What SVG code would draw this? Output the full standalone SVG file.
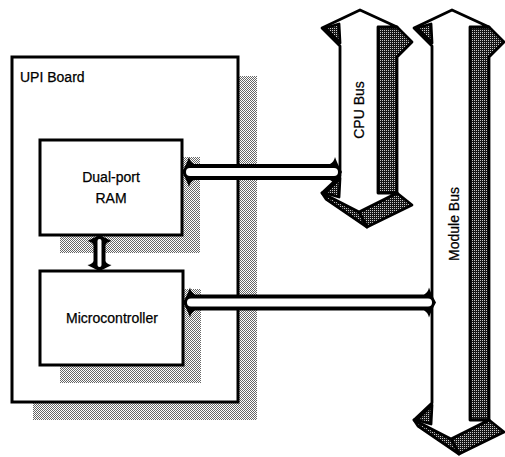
<svg xmlns="http://www.w3.org/2000/svg" width="505" height="457" viewBox="0 0 505 457">
<defs>
<pattern id="lt" width="2" height="2" patternUnits="userSpaceOnUse">
<rect width="2" height="2" fill="#ffffff"/>
<rect x="0" y="0" width="1" height="1" fill="#666666"/>
<rect x="1" y="1" width="1" height="1" fill="#666666"/>
</pattern>
<pattern id="dk" width="2" height="2" patternUnits="userSpaceOnUse">
<rect width="2" height="2" fill="#151515"/>
<rect x="0" y="0" width="1" height="1" fill="#c8c8c8"/>
</pattern>
</defs>
<style>
.shadow{fill:url(#lt);stroke:none}
.box{fill:#fff;stroke:#000;stroke-width:3}
.front{fill:#fff;stroke:#000;stroke-width:2.8;stroke-linejoin:round}
.side{fill:url(#dk);stroke:#000;stroke-width:2.8;stroke-linejoin:round}
.conn{fill:#000}
.inner{fill:#fff}
.lbl{font-family:"Liberation Sans",Arial,sans-serif;font-size:14px;fill:#000;stroke:#000;stroke-width:0.25}
</style>
<g id="upi-board">
<rect class="shadow" x="33" y="76" width="224" height="344"/>
<rect class="box" x="12" y="57" width="226" height="345" stroke-width="3.2"/>
<text class="lbl" x="20" y="82" font-size="13">UPI Board</text>
</g>
<g id="dual-port-ram">
<rect class="shadow" x="60" y="157" width="140" height="96"/>
<rect class="box" x="40" y="140" width="142" height="95"/>
<text class="lbl" x="111" y="182" text-anchor="middle">Dual-port</text>
<text class="lbl" x="111" y="203" text-anchor="middle">RAM</text>
</g>
<g id="microcontroller">
<rect class="shadow" x="60" y="289" width="141" height="94"/>
<rect class="box" x="40" y="271" width="143" height="94"/>
<text class="lbl" x="112" y="323" text-anchor="middle">Microcontroller</text>
</g>
<g id="cpu-bus">
<polygon class="side" points="378,27 397,27 412,42 397,57 397,193 378,193"/>
<polygon class="side" points="359,212 397,193 412,205 367,227"/>
<polygon class="side" points="322,193 359,212 367,227 326,199"/>
<polygon class="front" points="360,10 397,27 378,27 378,193 397,193 359,212 322,193 340,176 340,46 322,28"/>
<polygon class="side" points="325,28 339,24 340,43" stroke-width="1"/>
<polygon class="side" points="325,193 339,197 340,178" stroke-width="1"/>
<text class="lbl" transform="translate(364,110) rotate(-90)" text-anchor="middle">CPU Bus</text>
</g>
<g id="module-bus">
<polygon class="side" points="470,27 489,27 504,42 489,57 489,420 470,420"/>
<polygon class="side" points="451,439 489,420 504,432 459,454"/>
<polygon class="side" points="414,420 451,439 459,454 418,426"/>
<polygon class="front" points="452,10 489,27 470,27 470,420 489,420 451,439 414,420 432,403 432,46 414,28"/>
<polygon class="side" points="417,28 431,24 432,43" stroke-width="1"/>
<polygon class="side" points="417,420 431,424 432,405" stroke-width="1"/>
<text class="lbl" transform="translate(459,224) rotate(-90)" text-anchor="middle">Module Bus</text>
</g>
<g id="connectors">
<path class="conn" d="M182,172 Q187,163 189,157 Q190,162 194,164 L330,164 Q334,162 335,157 Q337,163 342,172 Q337,181 335,187 Q334,182 330,180 L194,180 Q190,182 189,187 Q187,181 182,172 Z"/>
<rect class="inner" x="186" y="168" width="152" height="8" rx="4"/>
<path class="conn" d="M183,302.5 Q188,293.5 190,287.5 Q191,292.5 195,294.5 L424,294.5 Q428,292.5 429,287.5 Q431,293.5 436,302.5 Q431,311.5 429,317.5 Q428,312.5 424,310.5 L195,310.5 Q191,312.5 190,317.5 Q188,311.5 183,302.5 Z"/>
<rect class="inner" x="187" y="298.5" width="245" height="8" rx="4"/>
<path class="conn" d="M99.5,235 Q108,239 111.5,241 Q106.5,242 105.5,245 L105.5,261 Q106.5,264 111.5,265 Q108,267 99.5,271 Q91,267 87.5,265 Q92.5,264 93.5,261 L93.5,245 Q92.5,242 87.5,241 Q91,239 99.5,235 Z"/>
<rect class="inner" x="97.5" y="239" width="4" height="28" rx="2"/>
</g>
</svg>
